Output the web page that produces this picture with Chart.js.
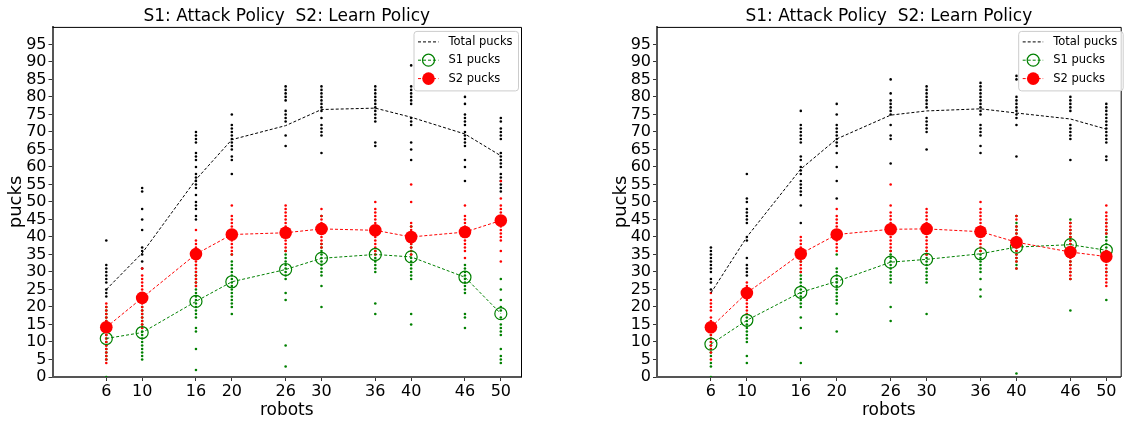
<!DOCTYPE html>
<html><head><meta charset="utf-8">
<script src="https://cdn.jsdelivr.net/npm/chart.js@4.4.0/dist/chart.umd.min.js"></script>
<style>
html,body{margin:0;padding:0;background:#fff;overflow:hidden;width:1129px;height:421px}
canvas{position:absolute;top:0}
#c1{left:0}
#c2{left:560px}
</style></head><body>
<canvas id="c1" width="560" height="421"></canvas>
<canvas id="c2" width="569" height="421"></canvas>
<script>
const robots = [6, 10, 16, 20, 26, 30, 36, 40, 46, 50];
const yTicks = [0, 5, 10, 15, 20, 25, 30, 35, 40, 45, 50, 55, 60, 65, 70, 75, 80, 85, 90, 95];
const seriesNames = ['Total pucks', 'S1 pucks', 'S2 pucks'];
const chartTitle = 'S1: Attack Policy  S2: Learn Policy';
const xAxisTitle = 'robots';
const yAxisTitle = 'pucks';

// ---- left panel ----
const A_totalMean = [25.0, 35.4, 56.4, 67.8, 71.8, 76.4, 76.8, 74.2, 69.4, 63.2];
const A_s1Mean = [11.0, 12.7, 21.6, 27.2, 30.7, 33.9, 35.0, 34.3, 28.5, 18.1];
const A_s2Mean = [14.2, 22.6, 35.1, 40.7, 41.2, 42.3, 41.9, 40.0, 41.4, 44.7];
const A_totalRuns = [
  [39, 32, 31, 30, 29, 28, 27, 25, 24, 23],
  [54, 53, 48, 45, 42, 37, 36, 35, 33, 31],
  [70, 69, 68, 67, 64, 63, 62, 60, 58, 57, 56, 55, 54, 52, 50, 49, 48, 46, 45],
  [75, 72, 71, 70, 69, 68, 67, 66, 65, 63, 62, 58],
  [83, 82, 81, 80, 79, 76, 75, 74, 73, 69, 66],
  [83, 82, 81, 80, 79, 78, 77, 76, 74, 72, 71, 70, 69, 64],
  [83, 82, 81, 80, 79, 78, 77, 76, 75, 74, 73, 67, 66],
  [89, 83, 82, 81, 80, 79, 78, 74, 73, 72, 67, 65, 62],
  [80, 78, 75, 74, 73, 72, 70, 69, 68, 67, 66, 62, 60, 56],
  [74, 73, 71, 70, 69, 68, 64, 63, 62, 61, 60, 58, 57, 56, 55, 54, 53]
];
const A_s1Runs = [
  [20, 19, 18, 17, 16, 15, 14, 13, 12, 11, 10, 9, 8, 7, 6, 5, 0],
  [22, 20, 19, 18, 17, 16, 15, 14, 13, 12, 11, 10, 9, 8, 7, 6, 5],
  [34, 32, 30, 29, 28, 27, 26, 25, 24, 23, 22, 21, 20, 19, 18, 17, 14, 13, 8, 2],
  [35, 33, 32, 31, 30, 29, 28, 27, 26, 25, 24, 23, 22, 21, 20, 18],
  [36, 35, 34, 33, 32, 31, 30, 29, 28, 24, 22, 9, 3],
  [46, 38, 37, 36, 35, 34, 33, 32, 31, 30, 29, 26, 20],
  [36, 35, 34, 33, 32, 31, 30, 21, 18],
  [43, 41, 38, 37, 36, 35, 34, 33, 32, 31, 30, 29, 28, 18, 15],
  [32, 31, 30, 29, 28, 27, 26, 25, 24, 18, 17, 14],
  [28, 25, 22, 20, 19, 17, 15, 14, 13, 12, 8, 6, 5, 4]
];
const A_s2Runs = [
  [21, 20, 19, 18, 17, 16, 15, 14, 13, 12, 11, 10, 9, 8, 7, 6, 5, 4],
  [31, 29, 28, 27, 26, 25, 24, 23, 22, 21, 20, 19, 18, 17, 16, 15, 14],
  [42, 39, 38, 37, 36, 35, 34, 33, 32, 31, 30, 29, 28, 27, 26],
  [49, 46, 45, 44, 43, 42, 41, 40, 39, 38, 37, 36, 35],
  [49, 48, 47, 46, 45, 44, 43, 42, 41, 40, 39, 38, 37, 36],
  [48, 46, 45, 44, 43, 42, 41, 40, 39, 38, 37],
  [50, 48, 47, 46, 45, 44, 43, 42, 41, 40, 39, 38, 37, 36, 35],
  [55, 50, 44, 43, 42, 41, 40, 39, 38, 37, 36, 35],
  [49, 46, 45, 44, 43, 42, 41, 40, 39, 38, 37, 36, 34],
  [56, 51, 49, 48, 47, 46, 45, 44, 43, 42, 41, 40, 39, 36, 33]
];

// ---- right panel ----
const B_totalMean = [24.0, 40.0, 59.4, 68.0, 74.8, 76.0, 76.6, 75.4, 73.7, 70.8];
const B_s1Mean = [9.4, 16.2, 24.2, 27.3, 32.8, 33.6, 35.2, 37.1, 37.8, 36.2];
const B_s2Mean = [14.2, 24.0, 35.2, 40.7, 42.2, 42.3, 41.5, 38.5, 35.7, 34.4];
const B_totalRuns = [
  [37, 36, 35, 34, 33, 32, 31, 30, 28, 27, 25],
  [58, 51, 50, 48, 47, 46, 45, 44, 40, 39, 34, 32, 31, 30, 29],
  [76, 72, 71, 70, 69, 68, 67, 63, 62, 60, 59, 58, 56, 55, 54, 53, 52, 49, 44],
  [78, 75, 72, 71, 70, 69, 68, 67, 66, 64, 60, 56, 51],
  [85, 81, 79, 78, 77, 76, 75, 72, 69, 68, 61],
  [83, 82, 81, 80, 79, 78, 77, 74, 73, 72, 71, 70, 65],
  [84, 83, 82, 81, 80, 79, 78, 77, 76, 75, 72, 71, 70, 69, 66, 64],
  [86, 85, 80, 79, 78, 77, 76, 75, 74, 72, 63],
  [80, 79, 78, 77, 76, 72, 71, 70, 69, 68, 62],
  [78, 77, 76, 75, 74, 73, 72, 71, 70, 69, 68, 67, 63, 62]
];
const B_s1Runs = [
  [15, 13, 12, 11, 10, 9, 8, 7, 6, 4, 3, 0],
  [18, 17, 16, 15, 14, 13, 12, 11, 10, 6, 4],
  [33, 30, 29, 28, 27, 26, 25, 24, 23, 22, 21, 20, 17, 14, 4],
  [35, 31, 30, 29, 28, 27, 26, 25, 24, 23, 22, 21, 18, 13],
  [36, 35, 34, 33, 32, 31, 30, 29, 28, 27, 20, 16],
  [36, 35, 34, 33, 32, 31, 30, 29, 28, 27, 18],
  [36, 35, 34, 33, 32, 31, 30, 28, 25, 23],
  [46, 44, 43, 42, 41, 40, 39, 38, 37, 36, 35, 34, 33, 32, 31, 1],
  [45, 44, 42, 41, 40, 39, 38, 37, 36, 35, 33, 32, 30, 28, 19],
  [44, 42, 41, 40, 39, 38, 37, 36, 35, 34, 33, 30, 22]
];
const B_s2Runs = [
  [24, 22, 21, 20, 19, 17, 16, 15, 14, 13, 12, 11, 10, 9, 8, 7, 5],
  [27, 26, 25, 24, 23, 22, 21, 20, 19, 18],
  [40, 39, 38, 37, 36, 35, 34, 33, 32, 31, 30],
  [48, 46, 45, 44, 43, 42, 41, 40, 39, 38, 37, 36],
  [55, 49, 47, 46, 45, 44, 43, 42, 41, 40, 39, 38, 37, 36],
  [48, 47, 46, 45, 44, 43, 42, 41, 40, 39, 38, 37, 36, 35],
  [50, 48, 47, 46, 45, 44, 43, 42, 41, 40, 39, 38, 37, 36],
  [46, 45, 43, 42, 41, 40, 39, 38, 37, 36, 35, 34, 33, 31],
  [44, 43, 42, 41, 40, 39, 38, 37, 36, 35, 34, 33, 32, 31, 30, 29, 28],
  [49, 47, 46, 45, 44, 43, 42, 41, 36, 35, 34, 33, 32, 31, 30, 29, 28, 27, 26]
];

Chart.defaults.font.family = '"DejaVu Sans", sans-serif';
Chart.defaults.color = '#000';

const framePlugin = {
  id: 'frame',
  afterDraw(chart) {
    const ctx = chart.ctx, a = chart.chartArea;
    ctx.save();
    ctx.strokeStyle = '#000';
    ctx.lineWidth = 1;
    ctx.beginPath();
    ctx.moveTo(a.left, a.top + 0.5);
    ctx.lineTo(a.right + 0.5, a.top + 0.5);
    ctx.lineTo(a.right + 0.5, a.bottom);
    ctx.stroke();
    ctx.restore();
  }
};

const legendPlugin = {
  id: 'boxLegend',
  afterDraw(chart, args, opts) {
    const ctx = chart.ctx, a = chart.chartArea;
    const w = 104.5, h = 59.5;
    const x0 = a.right + opts.dx - w, y0 = a.top + 4;
    ctx.save();
    ctx.fillStyle = 'rgba(255,255,255,0.8)';
    ctx.strokeStyle = '#cccccc';
    ctx.lineWidth = 1;
    ctx.beginPath();
    ctx.roundRect(x0 + 0.5, y0 + 0.5, w, h, 3);
    ctx.fill();
    ctx.stroke();
    const rows = [11, 29.3, 47.7];
    const items = chart.data.datasets.filter(ds => ds.type === 'line');
    items.forEach((ds, i) => {
      const y = y0 + rows[i];
      ctx.setLineDash(ds.borderDash);
      ctx.strokeStyle = ds.borderColor;
      ctx.lineWidth = 1;
      ctx.beginPath();
      ctx.moveTo(x0 + 4.5, y);
      ctx.lineTo(x0 + 25, y);
      ctx.stroke();
      ctx.setLineDash([]);
      if (ds.pointRadius > 0) {
        ctx.beginPath();
        ctx.arc(x0 + 15, y, ds.pointRadius, 0, Math.PI * 2);
        if (ds.pointBackgroundColor !== 'rgba(0,0,0,0)') {
          ctx.fillStyle = ds.pointBackgroundColor;
          ctx.fill();
        }
        if (ds.pointBorderWidth > 0) {
          ctx.strokeStyle = ds.pointBorderColor;
          ctx.lineWidth = ds.pointBorderWidth;
          ctx.stroke();
        }
      }
      ctx.fillStyle = '#000';
      ctx.font = '11.5px "DejaVu Sans"';
      ctx.textBaseline = 'middle';
      ctx.textAlign = 'left';
      ctx.fillText(ds.label, x0 + 35, y);
    });
    ctx.restore();
  }
};

function build(id, d, g) {
  const pts = runs => robots.flatMap((r, i) => runs[i].map(v => ({ x: r, y: v })));
  const means = m => robots.map((r, i) => ({ x: r, y: m[i] }));
  const dots = (c, runs, order) => ({
    type: 'scatter', data: pts(runs), order,
    pointRadius: 1.3, pointHoverRadius: 1.3, pointBorderWidth: 0,
    pointBackgroundColor: c, backgroundColor: c, borderColor: c, showLine: false
  });
  const gridOpts = { display: true, drawOnChartArea: false, drawTicks: true, tickLength: 4, color: '#333' };
  const borderOpts = { display: true, color: '#555', width: 2 };
  new Chart(document.getElementById(id), {
    type: 'scatter',
    data: {
      datasets: [
        dots('#000000', d.totalRuns, 6),
        dots('#008000', d.s1Runs, 5),
        dots('#ff0000', d.s2Runs, 4),
        { type: 'line', label: seriesNames[0], data: means(d.totalMean), order: 3,
          borderColor: '#000000', borderWidth: 1, borderDash: [3, 2], pointRadius: 0, fill: false, tension: 0 },
        { type: 'line', label: seriesNames[1], data: means(d.s1Mean), order: 2,
          borderColor: '#008000', borderWidth: 1, borderDash: [3, 2], fill: false, tension: 0,
          pointRadius: 6, pointHoverRadius: 6, pointBorderWidth: 1.2, pointBorderColor: '#008000',
          pointBackgroundColor: 'rgba(0,0,0,0)' },
        { type: 'line', label: seriesNames[2], data: means(d.s2Mean), order: 1,
          borderColor: '#ff0000', borderWidth: 1, borderDash: [3, 2], fill: false, tension: 0,
          pointRadius: 6.3, pointHoverRadius: 6.3, pointBorderWidth: 0, pointBorderColor: '#ff0000',
          pointBackgroundColor: '#ff0000' }
      ]
    },
    options: {
      responsive: false, animation: false, devicePixelRatio: 1,
      layout: { padding: { left: g.padLeft, right: g.padRight, top: 0, bottom: 0 } },
      plugins: {
        legend: { display: false },
        tooltip: { enabled: false },
        title: { display: true, text: chartTitle, fullSize: false, color: '#000',
                 font: { size: 17, weight: 'normal' }, padding: { top: 6.5, bottom: 0 } },
        boxLegend: { dx: g.legendDx }
      },
      scales: {
        x: {
          type: 'linear', position: 'bottom', min: 0, max: g.xMax,
          afterBuildTicks: s => { s.ticks = robots.map(v => ({ value: v })); },
          afterFit: s => { s.height = 44; },
          ticks: { font: { size: 16 }, color: '#000', padding: 1, maxRotation: 0, autoSkip: false },
          grid: gridOpts, border: borderOpts,
          title: { display: true, text: xAxisTitle, color: '#000', font: { size: 17 }, padding: { top: 0, bottom: 0 } }
        },
        y: {
          type: 'linear', position: 'left', min: 0, max: 100,
          afterBuildTicks: s => { s.ticks = yTicks.map(v => ({ value: v })); },
          afterFit: s => { s.width = 52.5; },
          ticks: { font: { size: 16 }, color: '#000', padding: 2, autoSkip: false },
          grid: gridOpts, border: borderOpts,
          title: { display: true, text: yAxisTitle, color: '#000', font: { size: 18 }, padding: { top: 6, bottom: 0 } }
        }
      }
    },
    plugins: [framePlugin, legendPlugin]
  });
}

build('c1', { totalMean: A_totalMean, s1Mean: A_s1Mean, s2Mean: A_s2Mean,
              totalRuns: A_totalRuns, s1Runs: A_s1Runs, s2Runs: A_s2Runs },
      { padLeft: 0, padRight: 39, xMax: 52.25, legendDx: -3 });
build('c2', { totalMean: B_totalMean, s1Mean: B_s1Mean, s2Mean: B_s2Mean,
              totalRuns: B_totalRuns, s1Runs: B_s1Runs, s2Runs: B_s2Runs },
      { padLeft: 44.5, padRight: 8.3, xMax: 51.6, legendDx: 2 });
</script>
</body></html>
